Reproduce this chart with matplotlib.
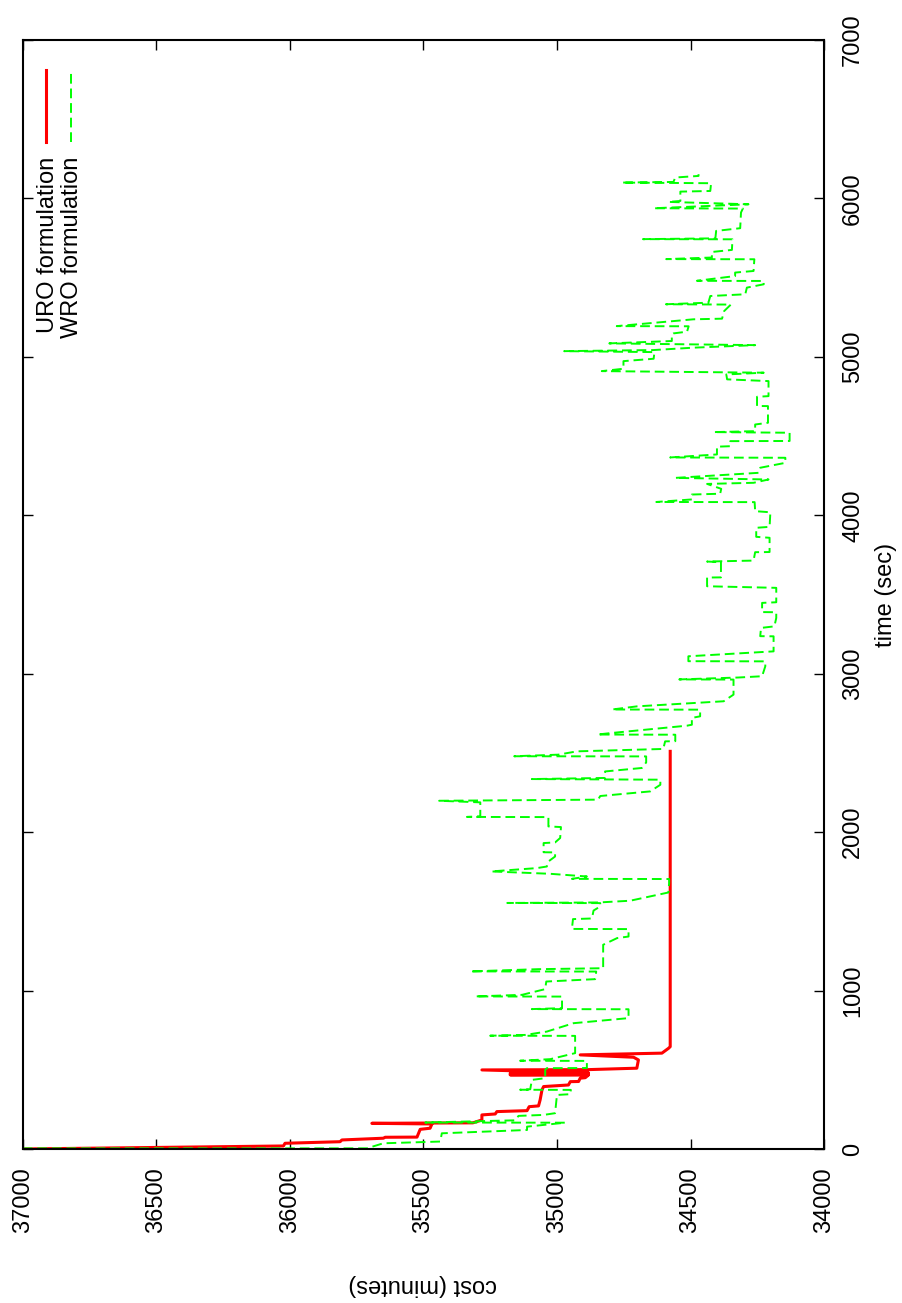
import matplotlib
matplotlib.use('Agg')
import matplotlib.pyplot as plt

plt.rcParams['font.family'] = ['Liberation Sans', 'DejaVu Sans']

# URO formulation: time (sec) / cost (minutes)
uro_time = [0, 19, 36, 46, 57, 68, 74, 75, 124, 131, 158, 162, 165, 183, 215,
            221, 236, 242, 267, 272, 310, 373, 394, 404, 425, 426, 447, 450,
            467, 468, 470, 473, 475, 479, 481, 499, 501, 510, 562, 579, 594,
            605, 636, 646, 2510]
uro_cost = [37000, 36024, 36018, 35812, 35805, 35650, 35643, 35524, 35512,
            35475, 35468, 35693, 35315, 35281, 35281, 35231, 35225, 35112,
            35104, 35069, 35063, 35056, 35050, 34957, 34950, 34919, 34913,
            34894, 34882, 35175, 34882, 35175, 34882, 35175, 34882, 35281,
            34882, 34701, 34695, 34713, 34913, 34607, 34582, 34576, 34576]

# WRO formulation
wro_time = [4, 4, 36, 47, 99, 120, 141, 166, 167, 181, 209, 215, 226, 341, 346,
            373, 374, 377, 436, 447, 499, 510, 511, 556, 557, 567, 605, 714,
            715, 720, 741, 794, 826, 882, 883, 889, 962, 963, 973, 1009, 1057,
            1072, 1120, 1121, 1135, 1141, 1289, 1331, 1341, 1388, 1389, 1451,
            1455, 1505, 1531, 1552, 1553, 1556, 1567, 1619, 1678, 1704, 1705,
            1720, 1737, 1752, 1773, 1783, 1815, 1846, 1872, 1873, 1931, 1935,
            1963, 2032, 2036, 2095, 2096, 2100, 2188, 2198, 2205, 2228, 2257,
            2299, 2331, 2335, 2342, 2383, 2405, 2440, 2478, 2479, 2489, 2510,
            2525, 2573, 2574, 2615, 2616, 2626, 2672, 2678, 2721, 2731, 2773,
            2774, 2794, 2826, 2868, 2963, 2964, 2976, 2984, 3047, 3078, 3079,
            3110, 3141, 3236, 3237, 3289, 3299, 3352, 3388, 3389, 3447, 3451,
            3542, 3552, 3607, 3608, 3704, 3708, 3714, 3767, 3768, 3858, 3864,
            3921, 3927, 4019, 4026, 4083, 4084, 4100, 4131, 4136, 4167, 4198,
            4205, 4226, 4236, 4268, 4300, 4331, 4363, 4365, 4384, 4433, 4436,
            4468, 4469, 4521, 4525, 4531, 4573, 4584, 4689, 4690, 4748, 4752,
            4847, 4858, 4889, 4900, 4910, 4925, 4973, 4988, 5030, 5036, 5043,
            5058, 5074, 5085, 5100, 5142, 5148, 5159, 5193, 5194, 5237, 5241,
            5289, 5330, 5332, 5342, 5384, 5395, 5437, 5458, 5479, 5480, 5510,
            5532, 5542, 5616, 5617, 5627, 5662, 5675, 5742, 5743, 5748, 5795,
            5812, 5911, 5936, 5938, 5963, 5978, 5984, 6043, 6047, 6096, 6100,
            6104, 6132, 6142, 6153]
wro_cost = [37000, 35712, 35650, 35437, 35431, 35112, 35112, 34969, 35493,
            35156, 35144, 35050, 35007, 35000, 34950, 34948, 35138, 35100,
            35094, 35044, 35044, 35038, 34888, 34888, 35138, 35025, 34932,
            34932, 35250, 35119, 35038, 34938, 34732, 34732, 35094, 34981,
            34981, 35306, 35131, 35044, 35040, 34857, 34853, 35325, 35070,
            34827, 34827, 34775, 34732, 34732, 34944, 34940, 34869, 34863,
            34838, 34838, 35186, 34845, 34726, 34583, 34580, 34580, 34944,
            34888, 35025, 35246, 35075, 35038, 35032, 35007, 35007, 35050,
            35050, 35007, 34988, 34985, 35032, 35032, 35337, 35287, 35287,
            35441, 34846, 34838, 34651, 34613, 34613, 35094, 34820, 34820,
            34682, 34666, 34666, 35160, 34995, 34925, 34602, 34595, 34557,
            34557, 34849, 34794, 34513, 34495, 34495, 34464, 34464, 34794,
            34700, 34376, 34339, 34339, 34542, 34321, 34232, 34220, 34220,
            34508, 34508, 34189, 34189, 34239, 34236, 34186, 34179, 34179,
            34232, 34232, 34179, 34179, 34438, 34438, 34386, 34386, 34438,
            34264, 34258, 34204, 34204, 34254, 34254, 34204, 34201, 34258,
            34260, 34628, 34495, 34495, 34389, 34385, 34438, 34264, 34208,
            34557, 34245, 34239, 34145, 34145, 34576, 34401, 34401, 34351,
            34351, 34129, 34129, 34414, 34258, 34258, 34210, 34210, 34251,
            34251, 34208, 34208, 34363, 34366, 34226, 34832, 34751, 34751,
            34638, 34635, 34973, 34638, 34489, 34258, 34804, 34570, 34570,
            34564, 34513, 34507, 34776, 34489, 34382, 34374, 34349, 34592,
            34433, 34426, 34295, 34289, 34226, 34226, 34476, 34333, 34333,
            34264, 34261, 34591, 34420, 34420, 34345, 34343, 34678, 34407,
            34404, 34314, 34311, 34304, 34638, 34283, 34582, 34538, 34538,
            34426, 34423, 34757, 34564, 34557, 34470, 34470]

cost_ticks = [37000, 36500, 36000, 35500, 35000, 34500, 34000]
time_ticks = [0, 1000, 2000, 3000, 4000, 5000, 6000, 7000]

FS = 17
RED = '#ff0000'
GREEN = '#00ff00'

fig = plt.figure(figsize=(9.02, 13.03), dpi=100)
ax = fig.add_axes([0.0252, 0.1182, 0.8884, 0.8511])

# page is turned on its side: cost runs along the bottom, time up the right
ax.plot(uro_cost, uro_time, color=RED, lw=2.2)
ax.plot(wro_cost, wro_time, color=GREEN, lw=1.4, dashes=(5, 2.5))

ax.set_xlim(37000, 34000)
ax.set_ylim(0, 7000)
ax.set_xticks(cost_ticks)
ax.set_yticks(time_ticks)
ax.set_xticklabels([str(v) for v in cost_ticks])
ax.set_yticklabels([str(v) for v in time_ticks])

for s in ax.spines.values():
    s.set_linewidth(1.5)

ax.tick_params(axis='both', direction='in', length=7, width=1,
               top=True, bottom=True, left=True, right=True, labelsize=FS)
ax.tick_params(axis='x', labelrotation=90, pad=13)
ax.tick_params(axis='y', labelleft=False, labelright=True,
               labelrotation=90, pad=13)
for lab in ax.get_yticklabels():
    lab.set_verticalalignment('center')

# key, rotated with the page
ax.plot([0.0294, 0.0294], [0.908, 0.973], transform=ax.transAxes,
        color=RED, lw=2.2, clip_on=False)
ax.text(0.0312, 0.8945, 'URO formulation', rotation=90, ha='center',
        va='top', transform=ax.transAxes, fontsize=FS)
ax.plot([0.0604, 0.0604], [0.908, 0.973], transform=ax.transAxes,
        color=GREEN, lw=1.4, dashes=(5, 2.5), clip_on=False)
ax.text(0.0619, 0.8945, 'WRO formulation', rotation=90, ha='center',
        va='top', transform=ax.transAxes, fontsize=FS)

fig.text(0.9823, 0.5434, 'time (sec)', rotation=90, ha='center',
         va='center', fontsize=FS)
fig.text(0.469, 0.0138, 'cost (minutes)', rotation=180, ha='center',
         va='center', fontsize=FS)

fig.savefig('out.png', dpi=100)
